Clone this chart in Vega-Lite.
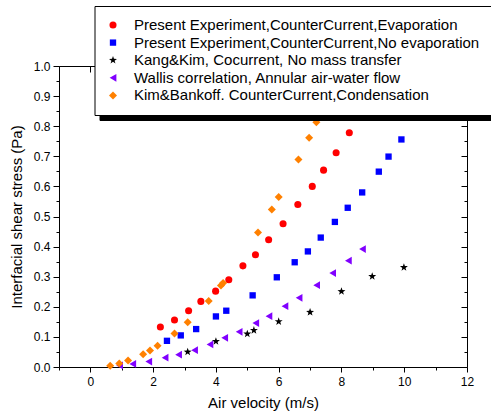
{
  "$schema": "https://vega.github.io/schema/vega-lite/v6.json",
  "width": 408,
  "height": 301,
  "autosize": "none",
  "padding": {"left": 59, "top": 66, "right": 24, "bottom": 52},
  "background": "white",
  "config": {
    "view": {"stroke": null},
    "font": "Liberation Sans",
    "axis": {"domainColor": "black", "tickColor": "black", "labelColor": "black", "titleColor": "black", "grid": false, "labelFont": "Liberation Sans", "titleFont": "Liberation Sans", "labelFontSize": 12, "titleFontSize": 15, "titleFontWeight": "normal", "domainWidth": 1, "tickWidth": 1}
  },
  "data": {"values": [
    {"series": "Present Experiment,CounterCurrent,Evaporation", "x": 2.23, "y": 0.133},
    {"series": "Present Experiment,CounterCurrent,Evaporation", "x": 2.68, "y": 0.156},
    {"series": "Present Experiment,CounterCurrent,Evaporation", "x": 3.13, "y": 0.187},
    {"series": "Present Experiment,CounterCurrent,Evaporation", "x": 3.52, "y": 0.218},
    {"series": "Present Experiment,CounterCurrent,Evaporation", "x": 3.99, "y": 0.252},
    {"series": "Present Experiment,CounterCurrent,Evaporation", "x": 4.41, "y": 0.29},
    {"series": "Present Experiment,CounterCurrent,Evaporation", "x": 4.86, "y": 0.336},
    {"series": "Present Experiment,CounterCurrent,Evaporation", "x": 5.26, "y": 0.373},
    {"series": "Present Experiment,CounterCurrent,Evaporation", "x": 5.68, "y": 0.423},
    {"series": "Present Experiment,CounterCurrent,Evaporation", "x": 6.14, "y": 0.476},
    {"series": "Present Experiment,CounterCurrent,Evaporation", "x": 6.61, "y": 0.54},
    {"series": "Present Experiment,CounterCurrent,Evaporation", "x": 7.07, "y": 0.6},
    {"series": "Present Experiment,CounterCurrent,Evaporation", "x": 7.43, "y": 0.654},
    {"series": "Present Experiment,CounterCurrent,Evaporation", "x": 7.83, "y": 0.712},
    {"series": "Present Experiment,CounterCurrent,Evaporation", "x": 8.25, "y": 0.778},
    {"series": "Present Experiment,CounterCurrent,No evaporation", "x": 2.44, "y": 0.087},
    {"series": "Present Experiment,CounterCurrent,No evaporation", "x": 2.88, "y": 0.105},
    {"series": "Present Experiment,CounterCurrent,No evaporation", "x": 3.37, "y": 0.126},
    {"series": "Present Experiment,CounterCurrent,No evaporation", "x": 4.0, "y": 0.168},
    {"series": "Present Experiment,CounterCurrent,No evaporation", "x": 4.33, "y": 0.187},
    {"series": "Present Experiment,CounterCurrent,No evaporation", "x": 5.17, "y": 0.238},
    {"series": "Present Experiment,CounterCurrent,No evaporation", "x": 5.94, "y": 0.298},
    {"series": "Present Experiment,CounterCurrent,No evaporation", "x": 6.51, "y": 0.348},
    {"series": "Present Experiment,CounterCurrent,No evaporation", "x": 6.93, "y": 0.384},
    {"series": "Present Experiment,CounterCurrent,No evaporation", "x": 7.34, "y": 0.43},
    {"series": "Present Experiment,CounterCurrent,No evaporation", "x": 7.79, "y": 0.482},
    {"series": "Present Experiment,CounterCurrent,No evaporation", "x": 8.2, "y": 0.529},
    {"series": "Present Experiment,CounterCurrent,No evaporation", "x": 8.66, "y": 0.58},
    {"series": "Present Experiment,CounterCurrent,No evaporation", "x": 9.19, "y": 0.649},
    {"series": "Present Experiment,CounterCurrent,No evaporation", "x": 9.5, "y": 0.699},
    {"series": "Present Experiment,CounterCurrent,No evaporation", "x": 9.91, "y": 0.756},
    {"series": "Kang&Kim, Cocurrent, No mass transfer", "x": 3.1, "y": 0.05},
    {"series": "Kang&Kim, Cocurrent, No mass transfer", "x": 4.0, "y": 0.085},
    {"series": "Kang&Kim, Cocurrent, No mass transfer", "x": 5.0, "y": 0.11},
    {"series": "Kang&Kim, Cocurrent, No mass transfer", "x": 5.21, "y": 0.122},
    {"series": "Kang&Kim, Cocurrent, No mass transfer", "x": 6.0, "y": 0.151},
    {"series": "Kang&Kim, Cocurrent, No mass transfer", "x": 7.0, "y": 0.182},
    {"series": "Kang&Kim, Cocurrent, No mass transfer", "x": 8.0, "y": 0.251},
    {"series": "Kang&Kim, Cocurrent, No mass transfer", "x": 8.98, "y": 0.301},
    {"series": "Kang&Kim, Cocurrent, No mass transfer", "x": 9.99, "y": 0.331},
    {"series": "Wallis correlation, Annular air-water flow", "x": 0.93, "y": 0.005},
    {"series": "Wallis correlation, Annular air-water flow", "x": 1.35, "y": 0.01},
    {"series": "Wallis correlation, Annular air-water flow", "x": 1.86, "y": 0.018},
    {"series": "Wallis correlation, Annular air-water flow", "x": 2.38, "y": 0.031},
    {"series": "Wallis correlation, Annular air-water flow", "x": 2.81, "y": 0.041},
    {"series": "Wallis correlation, Annular air-water flow", "x": 3.32, "y": 0.056},
    {"series": "Wallis correlation, Annular air-water flow", "x": 3.81, "y": 0.075},
    {"series": "Wallis correlation, Annular air-water flow", "x": 4.28, "y": 0.097},
    {"series": "Wallis correlation, Annular air-water flow", "x": 4.74, "y": 0.117},
    {"series": "Wallis correlation, Annular air-water flow", "x": 5.27, "y": 0.146},
    {"series": "Wallis correlation, Annular air-water flow", "x": 5.69, "y": 0.169},
    {"series": "Wallis correlation, Annular air-water flow", "x": 6.2, "y": 0.202},
    {"series": "Wallis correlation, Annular air-water flow", "x": 6.65, "y": 0.23},
    {"series": "Wallis correlation, Annular air-water flow", "x": 7.21, "y": 0.272},
    {"series": "Wallis correlation, Annular air-water flow", "x": 7.72, "y": 0.312},
    {"series": "Wallis correlation, Annular air-water flow", "x": 8.22, "y": 0.353},
    {"series": "Wallis correlation, Annular air-water flow", "x": 8.67, "y": 0.392},
    {"series": "Kim&Bankoff. CounterCurrent,Condensation", "x": 0.63, "y": 0.004},
    {"series": "Kim&Bankoff. CounterCurrent,Condensation", "x": 0.92, "y": 0.012},
    {"series": "Kim&Bankoff. CounterCurrent,Condensation", "x": 1.2, "y": 0.022},
    {"series": "Kim&Bankoff. CounterCurrent,Condensation", "x": 1.68, "y": 0.042},
    {"series": "Kim&Bankoff. CounterCurrent,Condensation", "x": 1.9, "y": 0.055},
    {"series": "Kim&Bankoff. CounterCurrent,Condensation", "x": 2.14, "y": 0.071},
    {"series": "Kim&Bankoff. CounterCurrent,Condensation", "x": 2.68, "y": 0.111},
    {"series": "Kim&Bankoff. CounterCurrent,Condensation", "x": 3.1, "y": 0.149},
    {"series": "Kim&Bankoff. CounterCurrent,Condensation", "x": 3.77, "y": 0.219},
    {"series": "Kim&Bankoff. CounterCurrent,Condensation", "x": 4.16, "y": 0.271},
    {"series": "Kim&Bankoff. CounterCurrent,Condensation", "x": 4.23, "y": 0.279},
    {"series": "Kim&Bankoff. CounterCurrent,Condensation", "x": 5.34, "y": 0.447},
    {"series": "Kim&Bankoff. CounterCurrent,Condensation", "x": 5.78, "y": 0.523},
    {"series": "Kim&Bankoff. CounterCurrent,Condensation", "x": 6.0, "y": 0.565},
    {"series": "Kim&Bankoff. CounterCurrent,Condensation", "x": 6.63, "y": 0.689},
    {"series": "Kim&Bankoff. CounterCurrent,Condensation", "x": 6.97, "y": 0.762},
    {"series": "Kim&Bankoff. CounterCurrent,Condensation", "x": 7.2, "y": 0.813}
  ]},
  "layer": [
    {
      "mark": {"type": "point", "filled": true, "opacity": 1},
      "encoding": {
        "x": {"field": "x", "type": "quantitative", "title": "Air velocity (m/s)",
          "scale": {"domain": [-1, 12], "nice": false, "zero": false},
          "axis": {"orient": "bottom", "values": [0,2,4,6,8,10,12], "tickSize": 5,
            "labelPadding": 4, "titlePadding": 8, "labelFlush": false, "labelOverlap": false}},
        "y": {"field": "y", "type": "quantitative", "title": "Interfacial shear stress (Pa)",
          "scale": {"domain": [0, 1], "nice": false},
          "axis": {"orient": "left", "values": [0,0.1,0.2,0.3,0.4,0.5,0.6,0.7,0.8,0.9,1], "format": ".1f", "tickSize": 6,
            "labelPadding": 3, "titlePadding": 9, "labelFlush": false, "labelOverlap": false}},
        "color": {"field": "series", "type": "nominal",
          "scale": {"domain": ["Present Experiment,CounterCurrent,Evaporation", "Present Experiment,CounterCurrent,No evaporation", "Kang&Kim, Cocurrent, No mass transfer", "Wallis correlation, Annular air-water flow", "Kim&Bankoff. CounterCurrent,Condensation"],
            "range": ["#FF0000", "#0000FF", "#000000", "#8000FF", "#FF8000"]},
          "legend": {"orient": "none", "legendX": 35.5, "legendY": -60, "title": null, "fillColor": "white", "strokeColor": "black", "padding": 11.5, "labelFont": "Liberation Sans", "labelFontSize": 15, "labelColor": "black", "labelLimit": 600, "symbolOffset": -0.5, "labelOffset": 13.5, "rowPadding": 1.6, "symbolStrokeWidth": 0, "zindex": 2}},
        "shape": {"field": "series", "type": "nominal",
          "scale": {"domain": ["Present Experiment,CounterCurrent,Evaporation", "Present Experiment,CounterCurrent,No evaporation", "Kang&Kim, Cocurrent, No mass transfer", "Wallis correlation, Annular air-water flow", "Kim&Bankoff. CounterCurrent,Condensation"],
            "range": ["circle", "square", "M0,-1L0.235,-0.324L0.951,-0.309L0.38,0.124L0.588,0.809L0,0.4L-0.588,0.809L-0.38,0.124L-0.951,-0.309L-0.235,-0.324Z", "triangle-left", "diamond"]}},
        "size": {"field": "series", "type": "nominal",
          "scale": {"type": "ordinal", "domain": ["Present Experiment,CounterCurrent,Evaporation", "Present Experiment,CounterCurrent,No evaporation", "Kang&Kim, Cocurrent, No mass transfer", "Wallis correlation, Annular air-water flow", "Kim&Bankoff. CounterCurrent,Condensation"],
            "range": [50, 40, 70, 60, 64]}}
      }
    },
    {
      "mark": {"type": "point", "filled": true, "opacity": 0},
      "encoding": {
        "x": {"field": "x", "type": "quantitative",
          "axis": {"orient": "top", "title": null, "labels": false, "values": [0,2,4,6,8,10,12], "tickSize": -6}},
        "y": {"field": "y", "type": "quantitative",
          "axis": {"orient": "right", "title": null, "labels": false, "values": [0,0.1,0.2,0.3,0.4,0.5,0.6,0.7,0.8,0.9,1], "tickSize": -6}},
        "strokeDash": {"field": "series", "type": "nominal",
          "scale": {"domain": ["Kim&Bankoff. CounterCurrent,Condensation", "Wallis correlation, Annular air-water flow", "Kang&Kim, Cocurrent, No mass transfer", "Present Experiment,CounterCurrent,No evaporation", "Present Experiment,CounterCurrent,Evaporation"]},
          "legend": {"orient": "none", "legendX": 40.5, "legendY": -55, "title": null, "fillColor": "black", "strokeColor": "black", "padding": 11.5, "labelFont": "Liberation Sans", "labelFontSize": 15, "labelColor": "black", "labelOpacity": 0, "labelLimit": 600, "symbolOffset": -0.5, "labelOffset": 13.5, "rowPadding": 1.6, "symbolType": "circle", "symbolSize": 64, "symbolFillColor": "black", "symbolStrokeColor": "black", "zindex": 1}}
      }
    },
    {
      "mark": {"type": "point", "opacity": 0},
      "encoding": {
        "x": {"field": "x", "type": "quantitative",
          "axis": {"orient": "bottom", "title": null, "labels": false, "domain": false, "values": [-1,1,3,5,7,9,11], "tickSize": 3}},
        "y": {"field": "y", "type": "quantitative",
          "axis": {"orient": "left", "title": null, "labels": false, "domain": false, "values": [0.05,0.15,0.25,0.35,0.45,0.55,0.65,0.75,0.85,0.95], "tickSize": 3}}
      }
    },
    {
      "mark": {"type": "point", "opacity": 0},
      "encoding": {
        "x": {"field": "x", "type": "quantitative",
          "axis": {"orient": "top", "title": null, "labels": false, "domain": false, "values": [-1,1,3,5,7,9,11], "tickSize": -3}},
        "y": {"field": "y", "type": "quantitative",
          "axis": {"orient": "right", "title": null, "labels": false, "domain": false, "values": [0.05,0.15,0.25,0.35,0.45,0.55,0.65,0.75,0.85,0.95], "tickSize": -3}}
      }
    }
  ],
  "resolve": {"axis": {"x": "independent", "y": "independent"}}
}
